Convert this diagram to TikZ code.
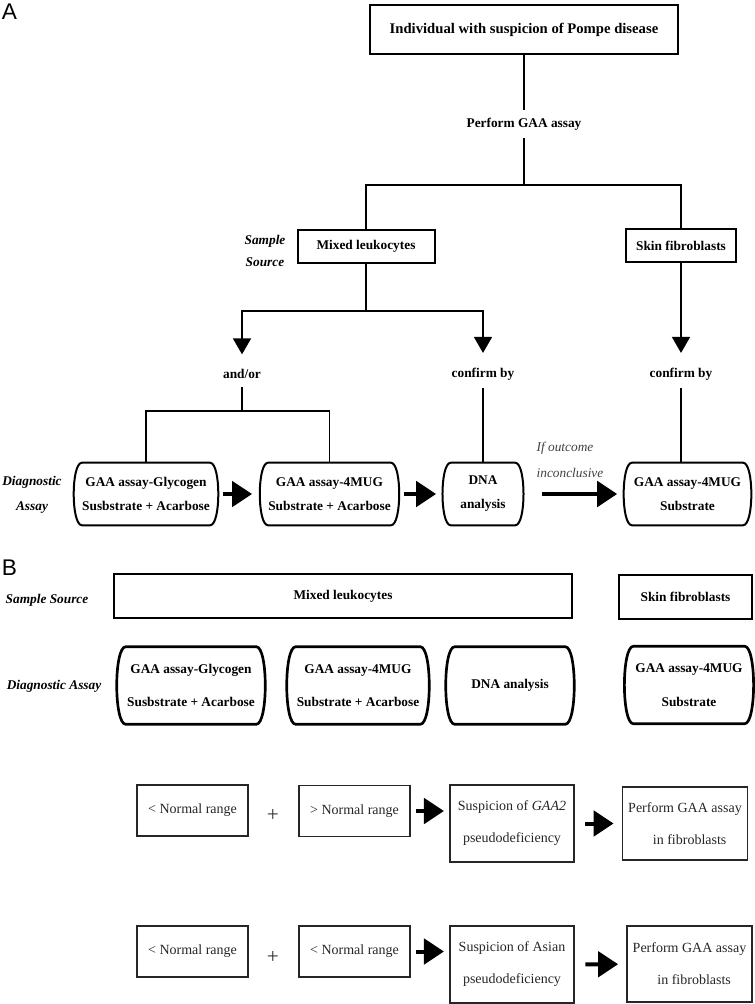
\documentclass[tikz,border=0pt]{standalone}
\usepackage{fontspec}
\setmainfont{Liberation Serif}
\newfontfamily\panelfont{Liberation Sans}
\usetikzlibrary{arrows.meta}

\begin{document}
\begin{tikzpicture}[
    x=0.75pt, y=-0.75pt,
    every node/.style={inner sep=0pt},
    panel/.style={font=\panelfont\fontsize{17}{17}\selectfont},
    side/.style={font=\fontsize{10}{#1}\selectfont\bfseries\itshape, align=center},
    srcbox/.style={draw, line width=1.5pt, font=\fontsize{10}{12}\selectfont\bfseries},
    assay/.style={align=center, font=\fontsize{10}{18}\selectfont\bfseries, minimum height=46.5pt},
    assayb/.style={align=center, font=\fontsize{10}{25}\selectfont\bfseries, minimum height=57.75pt},
    plain/.style={font=\fontsize{10}{12}\selectfont\bfseries, inner ysep=6pt},
    rangebox/.style={draw=black!85, line width=1.1pt, text=black!85, align=center,
        font=\fontsize{10.5}{24}\selectfont},
    plus/.style={font=\fontsize{16}{16}\selectfont, text=black!80},
    barrel/.style={line width=1.5pt},
    link/.style={line width=1.1pt},
    darr/.style={line width=1.1pt, -{Triangle[length=12pt,width=13.5pt]}},
    harr/.style={line width=3pt, -{Triangle[length=15pt,width=19pt]}}
]
\useasboundingbox (0,0) rectangle (754,1004);

% panel A
\node[panel] (pa) at (9.5,11.5) {A};
\node[draw, line width=2.2pt, minimum width=231pt, minimum height=36.75pt,
      font=\fontsize{11}{13}\selectfont\bfseries] (start) at (524,29.5)
      {Individual with suspicion of Pompe disease};
\node[plain] (perf) at (524,124) {Perform GAA assay};
\coordinate (j1) at (524,185);
\node[srcbox, minimum width=102.75pt, minimum height=24.75pt] (ml) at (366,246.5) {Mixed leukocytes};
\node[srcbox, minimum width=82.5pt, minimum height=24.75pt] (sf) at (681,245.5) {Skin fibroblasts};
\node[side=17] (src) at (265,251) {Sample\\Source};

\coordinate (j2) at (366,311);
\node[plain] (andor) at (242,374) {and/or};
\node[plain] (cb1) at (483,374) {confirm by};
\node[plain] (cb2) at (681,374) {confirm by};
\coordinate (j3) at (242,411);

\node[assay, minimum width=91.5pt] (gly) at (146,494) {GAA assay-Glycogen\\Susbstrate + Acarbose};
\node[assay, minimum width=89pt] (mug) at (329.5,494) {GAA assay-4MUG\\Substrate + Acarbose};
\node[assay, minimum width=48pt] (dna) at (483,494) {DNA\\analysis};
\node[assay, minimum width=83pt] (fib) at (687.5,494) {GAA assay-4MUG\\Substrate};
\node[side=19] (diag) at (32,495) {Diagnostic\\Assay};
\node[font=\fontsize{10}{19}\selectfont\itshape, text=black!75, align=left] (note) at (570,460)
      {If outcome\\inconclusive};

\draw[link] (start) -- (perf);
\draw[link] (perf) -- (j1);
\draw[link] (ml) |- (j1) -| (sf);
\draw[link] (ml) -- (j2);
\draw[darr, shorten >=5pt] (j2) -| (andor);
\draw[darr, shorten >=5pt] (j2) -| (cb1);
\draw[darr, shorten >=5pt] (sf) -- (cb2);
\draw[link] (andor) -- (j3);
\draw[link] (gly) |- (j3) -| (mug);
\draw[link] (cb1) -- (dna);
\draw[link] (cb2) -- (cb2 |- fib.north);
\draw[harr, shorten <=10pt, shorten >=12pt] (gly) -- (mug);
\draw[harr, shorten <=10pt, shorten >=11pt] (mug) -- (dna);
\draw[harr, shorten <=20pt, shorten >=11pt] (dna) -- (fib);

\foreach \n in {gly,mug,dna,fib}
  \draw[barrel] (\n.north west) -- (\n.north east) .. controls +(11,0) and +(11,0) .. (\n.south east)
     -- (\n.south west) .. controls +(-11,0) and +(-11,0) .. (\n.north west) -- cycle;

% panel B
\node[panel] (pb) at (9.5,568) {B};
\node[side=12] (srcb) at (47,600) {Sample Source};
\node[srcbox, minimum width=343.5pt, minimum height=33pt] (mlb) at (343,596) {Mixed leukocytes};
\node[srcbox, minimum width=100pt, minimum height=33pt] (sfb) at (685.5,596.5) {Skin fibroblasts};
\node[side=12] (diagb) at (54,686) {Diagnostic Assay};
\node[assayb, minimum width=97.5pt] (glyb) at (191,685.5) {GAA assay-Glycogen\\Susbstrate + Acarbose};
\node[assayb, minimum width=93pt] (mugb) at (358,685.5) {GAA assay-4MUG\\Substrate + Acarbose};
\node[assayb, minimum width=82.5pt] (dnab) at (510,685.5) {DNA analysis};
\node[assayb, minimum width=83pt] (fibb) at (689,685) {GAA assay-4MUG\\Substrate};

\foreach \n in {glyb,mugb,dnab,fibb}
  \draw[barrel, line width=2pt] (\n.north west) -- (\n.north east) .. controls +(12,0) and +(12,0) .. (\n.south east)
     -- (\n.south west) .. controls +(-12,0) and +(-12,0) .. (\n.north west) -- cycle;

\node[rangebox, minimum width=83pt, minimum height=38pt] (lo1) at (192.5,810.5) {< Normal range};
\node[plus] (plus1) at (273,815) {+};
\node[rangebox, minimum width=83pt, minimum height=38pt] (hi1) at (354.5,811) {> Normal range};
\node[rangebox, minimum width=93pt, minimum height=57.75pt] (sus1) at (512,823.5)
      {Suspicion of \textit{GAA2}\\pseudodeficiency};
\node[rangebox, minimum width=94pt, minimum height=54.75pt] (perf1) at (685,823.5)
      {Perform GAA assay\\\hspace*{7pt}in fibroblasts};
\draw[harr, shorten <=4pt, shorten >=4pt] (hi1) -- (hi1 -| sus1.west);
\draw[harr, shorten <=8pt, shorten >=6pt] (sus1) -- (perf1);

\node[rangebox, minimum width=83pt, minimum height=38pt] (lo2) at (192.5,951.5) {< Normal range};
\node[plus] (plus2) at (273,957) {+};
\node[rangebox, minimum width=83pt, minimum height=38pt] (lo3) at (354.5,951.5) {< Normal range};
\node[rangebox, minimum width=93pt, minimum height=57.75pt] (sus2) at (512,964.5)
      {Suspicion of Asian\\pseudodeficiency};
\node[rangebox, minimum width=94pt, minimum height=57pt] (perf2) at (689.5,964)
      {Perform GAA assay\\\hspace*{7pt}in fibroblasts};
\draw[harr, shorten <=4pt, shorten >=4pt] (lo3) -- (lo3 -| sus2.west);
\draw[harr, shorten <=8pt, shorten >=6pt] (sus2) -- (perf2);
\end{tikzpicture}
\end{document}
